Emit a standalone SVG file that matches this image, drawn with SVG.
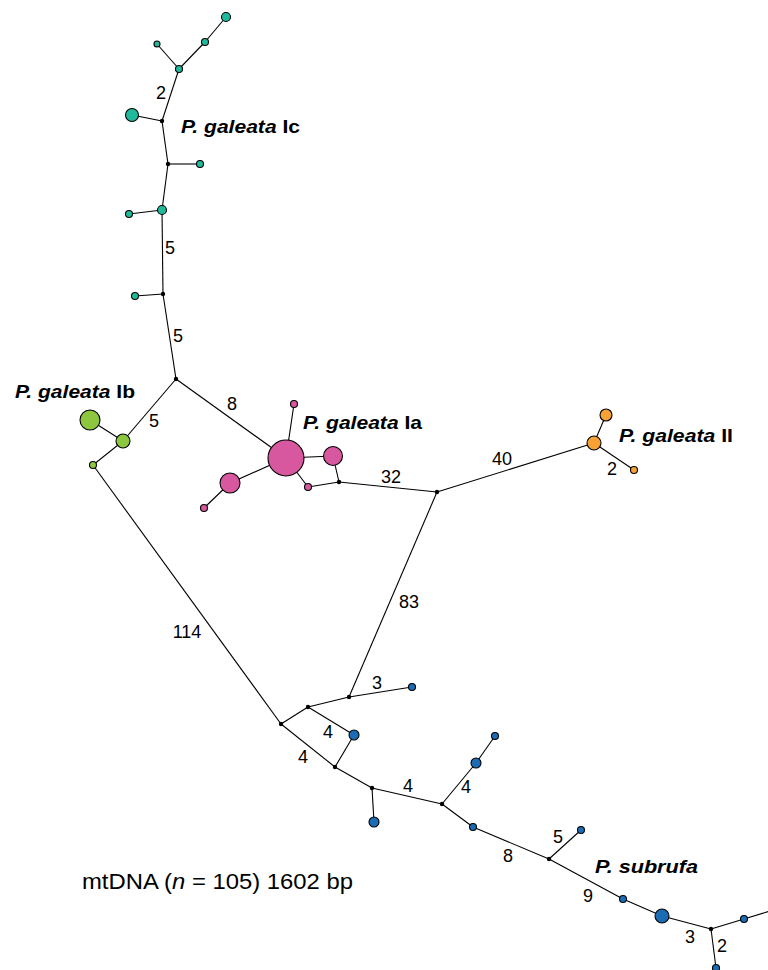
<svg xmlns="http://www.w3.org/2000/svg" width="768" height="970" viewBox="0 0 768 970">
<style>
.e{stroke:#000;stroke-width:1.1;fill:none}
.n{stroke:#000;stroke-width:1.1}
.t{fill:#20b99b}.g{fill:#8dc63f}.p{fill:#d8589f}.o{fill:#f7a234}.b{fill:#1b6cb5}
.d{fill:#000}
.num{font-family:"Liberation Sans",Arial,sans-serif;font-size:18px;text-anchor:middle;fill:#000}
.sp{font-family:"Liberation Sans",Arial,sans-serif;font-size:19px;font-weight:bold;fill:#000}
.cap{font-family:"Liberation Sans",Arial,sans-serif;font-size:21.5px;fill:#000}
</style>
<rect width="768" height="970" fill="#fff"/>
<g id="connectors">
<line class="e" x1="226" y1="17" x2="205" y2="42"/>
<line class="e" x1="205" y1="42" x2="179" y2="69"/>
<line class="e" x1="157" y1="44" x2="179" y2="69"/>
<line class="e" x1="179" y1="69" x2="162" y2="121"/>
<line class="e" x1="132" y1="115" x2="162" y2="121"/>
<line class="e" x1="162" y1="121" x2="168" y2="164"/>
<line class="e" x1="168" y1="164" x2="200" y2="164"/>
<line class="e" x1="168" y1="164" x2="162" y2="210"/>
<line class="e" x1="162" y1="210" x2="129" y2="214"/>
<line class="e" x1="162" y1="210" x2="163" y2="294"/>
<line class="e" x1="163" y1="294" x2="135" y2="296"/>
<line class="e" x1="163" y1="294" x2="176" y2="379"/>
<line class="e" x1="176" y1="379" x2="123" y2="441"/>
<line class="e" x1="90" y1="420" x2="123" y2="441"/>
<line class="e" x1="123" y1="441" x2="93" y2="465"/>
<line class="e" x1="93" y1="465" x2="281" y2="724"/>
<line class="e" x1="176" y1="379" x2="286" y2="458"/>
<line class="e" x1="286" y1="458" x2="294" y2="404"/>
<line class="e" x1="286" y1="458" x2="333" y2="456"/>
<line class="e" x1="286" y1="458" x2="230" y2="483"/>
<line class="e" x1="230" y1="483" x2="204" y2="508"/>
<line class="e" x1="286" y1="458" x2="308" y2="487"/>
<line class="e" x1="308" y1="487" x2="339" y2="482"/>
<line class="e" x1="333" y1="456" x2="339" y2="482"/>
<line class="e" x1="339" y1="482" x2="437" y2="492"/>
<line class="e" x1="437" y1="492" x2="594" y2="443"/>
<line class="e" x1="594" y1="443" x2="606" y2="415"/>
<line class="e" x1="594" y1="443" x2="634" y2="470"/>
<line class="e" x1="437" y1="492" x2="349" y2="697"/>
<line class="e" x1="349" y1="697" x2="412" y2="687"/>
<line class="e" x1="349" y1="697" x2="308" y2="707"/>
<line class="e" x1="308" y1="707" x2="281" y2="724"/>
<line class="e" x1="308" y1="707" x2="354" y2="735"/>
<line class="e" x1="281" y1="724" x2="335" y2="767"/>
<line class="e" x1="354" y1="735" x2="335" y2="767"/>
<line class="e" x1="335" y1="767" x2="372" y2="788"/>
<line class="e" x1="372" y1="788" x2="374" y2="822"/>
<line class="e" x1="372" y1="788" x2="442" y2="804"/>
<line class="e" x1="442" y1="804" x2="476" y2="763"/>
<line class="e" x1="476" y1="763" x2="495" y2="736"/>
<line class="e" x1="442" y1="804" x2="473" y2="827"/>
<line class="e" x1="473" y1="827" x2="549" y2="859"/>
<line class="e" x1="549" y1="859" x2="581" y2="830"/>
<line class="e" x1="549" y1="859" x2="623" y2="899"/>
<line class="e" x1="623" y1="899" x2="662" y2="916"/>
<line class="e" x1="662" y1="916" x2="711" y2="929"/>
<line class="e" x1="711" y1="929" x2="744" y2="919"/>
<line class="e" x1="744" y1="919" x2="770" y2="911"/>
<line class="e" x1="711" y1="929" x2="716" y2="968"/>
</g>
<g id="labels">
<text class="num" x="161" y="99">2</text>
<text class="num" x="170" y="254">5</text>
<text class="num" x="178" y="342">5</text>
<text class="num" x="154" y="427">5</text>
<text class="num" x="232" y="410">8</text>
<text class="num" x="391" y="483">32</text>
<text class="num" x="502" y="465">40</text>
<text class="num" x="612" y="475">2</text>
<text class="num" x="187" y="638">114</text>
<text class="num" x="409" y="608">83</text>
<text class="num" x="377" y="689">3</text>
<text class="num" x="328" y="738">4</text>
<text class="num" x="303" y="763">4</text>
<text class="num" x="408" y="792">4</text>
<text class="num" x="466" y="793">4</text>
<text class="num" x="508" y="862">8</text>
<text class="num" x="558" y="843">5</text>
<text class="num" x="588" y="902">9</text>
<text class="num" x="690" y="943">3</text>
<text class="num" x="722" y="952">2</text>
<text class="sp" x="181" y="133" textLength="119" lengthAdjust="spacingAndGlyphs"><tspan font-style="italic">P. galeata</tspan> Ic</text>
<text class="sp" x="15" y="398" textLength="120" lengthAdjust="spacingAndGlyphs"><tspan font-style="italic">P. galeata</tspan> Ib</text>
<text class="sp" x="303" y="429" textLength="119" lengthAdjust="spacingAndGlyphs"><tspan font-style="italic">P. galeata</tspan> Ia</text>
<text class="sp" x="619" y="442" textLength="114" lengthAdjust="spacingAndGlyphs"><tspan font-style="italic">P. galeata</tspan> II</text>
<text class="sp" x="595" y="873" textLength="103" lengthAdjust="spacingAndGlyphs" font-style="italic">P. subrufa</text>
<text class="cap" x="82" y="889" textLength="271" lengthAdjust="spacingAndGlyphs">mtDNA (<tspan font-style="italic">n</tspan> = 105) 1602 bp</text>
</g>
<g id="nodes-Ic">
<circle id="t1" class="n t" cx="226" cy="17" r="4.5"/>
<circle id="t2" class="n t" cx="205" cy="42" r="3.5"/>
<circle id="t3" class="n t" cx="157" cy="44" r="3"/>
<circle id="t4" class="n t" cx="179" cy="69" r="3.5"/>
<circle id="t5" class="n t" cx="132" cy="115" r="6.5"/>
<circle id="t6" class="n t" cx="200" cy="164" r="3.5"/>
<circle id="t7" class="n t" cx="162" cy="210" r="4.5"/>
<circle id="t8" class="n t" cx="129" cy="214" r="3.5"/>
<circle id="t9" class="n t" cx="135" cy="296" r="3.5"/>
</g>
<g id="nodes-Ib">
<circle id="g1" class="n g" cx="90" cy="420" r="10"/>
<circle id="g2" class="n g" cx="123" cy="441" r="7"/>
<circle id="g3" class="n g" cx="93" cy="465" r="3.5"/>
</g>
<g id="nodes-Ia">
<circle id="p1" class="n p" cx="286" cy="458" r="18"/>
<circle id="p2" class="n p" cx="294" cy="404" r="3.5"/>
<circle id="p3" class="n p" cx="333" cy="456" r="9.5"/>
<circle id="p4" class="n p" cx="230" cy="483" r="10"/>
<circle id="p5" class="n p" cx="204" cy="508" r="3.5"/>
<circle id="p6" class="n p" cx="308" cy="487" r="3.5"/>
</g>
<g id="nodes-II">
<circle id="o1" class="n o" cx="594" cy="443" r="7"/>
<circle id="o2" class="n o" cx="606" cy="415" r="6"/>
<circle id="o3" class="n o" cx="634" cy="470" r="3.5"/>
</g>
<g id="nodes-subrufa">
<circle id="b1" class="n b" cx="412" cy="687" r="3.5"/>
<circle id="b2" class="n b" cx="354" cy="735" r="5"/>
<circle id="b3" class="n b" cx="374" cy="822" r="5"/>
<circle id="b4" class="n b" cx="476" cy="763" r="5"/>
<circle id="b5" class="n b" cx="495" cy="736" r="3.5"/>
<circle id="b6" class="n b" cx="473" cy="827" r="3.5"/>
<circle id="b7" class="n b" cx="581" cy="830" r="3.5"/>
<circle id="b8" class="n b" cx="623" cy="899" r="3.5"/>
<circle id="b9" class="n b" cx="662" cy="916" r="7"/>
<circle id="b10" class="n b" cx="744" cy="919" r="3.5"/>
<circle id="b11" class="n b" cx="716" cy="968" r="3.5"/>
</g>
<g id="median-vectors">
<circle class="d" cx="162" cy="121" r="2.2"/>
<circle class="d" cx="168" cy="164" r="2.2"/>
<circle class="d" cx="163" cy="294" r="2.2"/>
<circle class="d" cx="176" cy="379" r="2.2"/>
<circle class="d" cx="339" cy="482" r="2.2"/>
<circle class="d" cx="437" cy="492" r="2.2"/>
<circle class="d" cx="349" cy="697" r="2.2"/>
<circle class="d" cx="308" cy="707" r="2.2"/>
<circle class="d" cx="281" cy="724" r="2.2"/>
<circle class="d" cx="335" cy="767" r="2.2"/>
<circle class="d" cx="372" cy="788" r="2.2"/>
<circle class="d" cx="442" cy="804" r="2.2"/>
<circle class="d" cx="549" cy="859" r="2.2"/>
<circle class="d" cx="711" cy="929" r="2.2"/>
</g>
</svg>
